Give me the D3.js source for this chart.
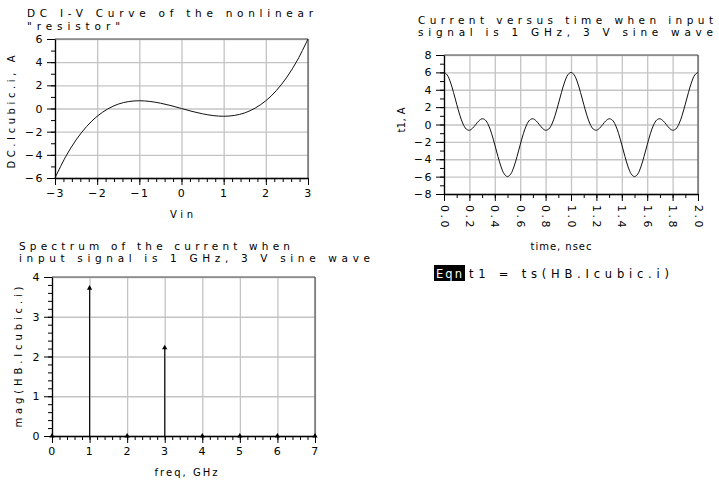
<!DOCTYPE html>
<html><head><meta charset="utf-8">
<script src="https://cdn.jsdelivr.net/npm/d3@7"></script>
<style>
html,body{margin:0;padding:0;background:#fff;}
text{font-family:"DejaVu Sans",sans-serif;fill:#000;}
</style></head>
<body><svg id="c" width="719" height="482"></svg>
<script>
// ---------- data ----------
const dcVin = [-3,-2.75,-2.5,-2.25,-2,-1.75,-1.5,-1.25,-1,-0.75,-0.5,-0.25,0,0.25,0.5,0.75,1,1.25,1.5,1.75,2,2.25,2.5,2.75,3];
const dcCurrent = [-6,-4.18,-2.71,-1.55,-0.67,-0.04,0.38,0.6,0.67,0.61,0.46,0.25,0,-0.25,-0.46,-0.61,-0.67,-0.6,-0.38,0.04,0.67,1.55,2.71,4.18,6];

const timeNs = [0,0.025,0.05,0.075,0.1,0.125,0.15,0.175,0.2,0.225,0.25,0.275,0.3,0.325,0.35,0.375,0.4,0.425,0.45,0.475,
 0.5,0.525,0.55,0.575,0.6,0.625,0.65,0.675,0.7,0.725,0.75,0.775,0.8,0.825,0.85,0.875,0.9,0.925,0.95,0.975,
 1,1.025,1.05,1.075,1.1,1.125,1.15,1.175,1.2,1.225,1.25,1.275,1.3,1.325,1.35,1.375,1.4,1.425,1.45,1.475,
 1.5,1.525,1.55,1.575,1.6,1.625,1.65,1.675,1.7,1.725,1.75,1.775,1.8,1.825,1.85,1.875,1.9,1.925,1.95,1.975,2];
const t1Current = [6,5.71,4.89,3.69,2.34,1.06,0.06,-0.52,-0.66,-0.43,0,0.43,0.66,0.52,-0.06,-1.06,-2.34,-3.69,-4.89,-5.71,
 -6,-5.71,-4.89,-3.69,-2.34,-1.06,-0.06,0.52,0.66,0.43,0,-0.43,-0.66,-0.52,0.06,1.06,2.34,3.69,4.89,5.71,
 6,5.71,4.89,3.69,2.34,1.06,0.06,-0.52,-0.66,-0.43,0,0.43,0.66,0.52,-0.06,-1.06,-2.34,-3.69,-4.89,-5.71,
 -6,-5.71,-4.89,-3.69,-2.34,-1.06,-0.06,0.52,0.66,0.43,0,-0.43,-0.66,-0.52,0.06,1.06,2.34,3.69,4.89,5.71,6];

const freqGHz = [0,1,2,3,4,5,6,7];
const magHB = [0,3.72,0,2.22,0,0,0,0];

const dcXTicks = [-3,-2,-1,0,1,2,3];
const dcYTicks = [-6,-4,-2,0,2,4,6];
const tsXTicks = [0,0.2,0.4,0.6,0.8,1.0,1.2,1.4,1.6,1.8,2.0];
const tsYTicks = [-8,-6,-4,-2,0,2,4,6,8];
const spXTicks = [0,1,2,3,4,5,6,7];
const spYTicks = [0,1,2,3,4];

const svg = d3.select("#c");

function txt(g, s, x, y, opts) {
  const t = g.append("text").attr("x", x).attr("y", y).text(s)
    .attr("font-size", opts.size || 12);
  if (opts.len) t.attr("textLength", opts.len).attr("lengthAdjust", "spacing");
  if (opts.anchor) t.attr("text-anchor", opts.anchor);
  if (opts.rot) t.attr("transform", `rotate(${opts.rot},${x},${y})`);
  if (opts.ls) t.attr("letter-spacing", opts.ls);
  return t;
}

function panel(cfg) {
  const g = svg.append("g");
  const x = d3.scaleLinear().domain(cfg.xd).range([cfg.l, cfg.r]);
  const y = d3.scaleLinear().domain(cfg.yd).range([cfg.b, cfg.t]);
  const W = cfg.r - cfg.l, H = cfg.b - cfg.t;
  // grid
  g.append("g").attr("transform", `translate(0,${cfg.b})`)
    .call(d3.axisBottom(x).tickValues(cfg.xTicks).tickSize(-H).tickFormat(""))
    .call(a => a.select(".domain").remove())
    .selectAll("line").attr("stroke", "#c4c4c4").attr("stroke-width", 1.3);
  g.append("g").attr("transform", `translate(${cfg.l},0)`)
    .call(d3.axisLeft(y).tickValues(cfg.yTicks).tickSize(-W).tickFormat(""))
    .call(a => a.select(".domain").remove())
    .selectAll("line").attr("stroke", "#c4c4c4").attr("stroke-width", 1.3);
  // frame top/right
  g.append("line").attr("x1", cfg.l).attr("x2", cfg.r).attr("y1", cfg.t).attr("y2", cfg.t).attr("stroke", "#555").attr("stroke-width", 1.2);
  g.append("line").attr("x1", cfg.r).attr("x2", cfg.r).attr("y1", cfg.t).attr("y2", cfg.b).attr("stroke", "#555").attr("stroke-width", 1.2);
  // minor ticks
  g.append("g").attr("transform", `translate(0,${cfg.b})`)
    .call(d3.axisBottom(x).tickValues(cfg.xMinor).tickSize(4).tickFormat(""))
    .call(a => a.select(".domain").remove())
    .selectAll("line").attr("stroke", "#000");
  g.append("g").attr("transform", `translate(${cfg.l},0)`)
    .call(d3.axisLeft(y).tickValues(cfg.yMinor).tickSize(4).tickFormat(""))
    .call(a => a.select(".domain").remove())
    .selectAll("line").attr("stroke", "#000");
  // major axes
  const xa = g.append("g").attr("transform", `translate(0,${cfg.b})`)
    .call(d3.axisBottom(x).tickValues(cfg.xTicks).tickSize(7).tickPadding(4).tickSizeOuter(0).tickFormat(cfg.xFmt));
  xa.select(".domain").attr("stroke", "#000").attr("stroke-width", 1.3);
  xa.selectAll("line").attr("stroke", "#000");
  xa.selectAll("text").attr("font-size", 11).attr("font-family", '"DejaVu Sans",sans-serif').attr("letter-spacing", 1.5);
  if (cfg.rotX) {
    xa.selectAll("text").attr("text-anchor", "start").attr("y", 0).attr("dy", "0.35em")
      .attr("transform", "translate(0,11) rotate(90)").attr("letter-spacing", 2.5);
  }
  const ya = g.append("g").attr("transform", `translate(${cfg.l},0)`)
    .call(d3.axisLeft(y).tickValues(cfg.yTicks).tickSize(8).tickPadding(3).tickSizeOuter(0).tickFormat(d3.format("d")));
  ya.select(".domain").attr("stroke", "#000").attr("stroke-width", 1.3);
  ya.selectAll("line").attr("stroke", "#000");
  ya.selectAll("text").attr("font-size", 11).attr("font-family", '"DejaVu Sans",sans-serif').attr("letter-spacing", 1.5);
  return {g, x, y};
}

// ---------- panel 1: DC I-V ----------
const p1 = panel({l: 55, r: 308, t: 39, b: 178, xd: [-3, 3], yd: [-6, 6],
  xTicks: dcXTicks, yTicks: dcYTicks, xFmt: d3.format("d"),
  xMinor: d3.range(-3, 3.001, 0.2), yMinor: d3.range(-6, 6.001, 1)});
p1.g.append("path").datum(dcVin.map((v, i) => [v, dcCurrent[i]]))
  .attr("fill", "none").attr("stroke", "#111").attr("stroke-width", 1)
  .attr("d", d3.line().x(d => p1.x(d[0])).y(d => p1.y(d[1])).curve(d3.curveCatmullRom));
txt(svg, "DC I-V Curve of the nonlinear", 27, 17, {size: 10.5, len: 286});
txt(svg, "\"resistor\"", 27, 29.5, {size: 10.5, len: 93});
txt(svg, "Vin", 181.5, 218, {size: 10, len: 23, anchor: "middle"});
txt(svg, "DC.Icubic.i, A", 15, 112, {size: 10, len: 113, anchor: "middle", rot: -90});

// ---------- panel 2: time domain ----------
const p2 = panel({l: 444, r: 698, t: 55, b: 194, xd: [0, 2], yd: [-8, 8],
  xTicks: tsXTicks, yTicks: tsYTicks, xFmt: d3.format(".1f"), rotX: true,
  xMinor: d3.range(0, 2.001, 0.1), yMinor: d3.range(-8, 8.001, 1)});
p2.g.append("path").datum(timeNs.map((v, i) => [v, t1Current[i]]))
  .attr("fill", "none").attr("stroke", "#111").attr("stroke-width", 1)
  .attr("d", d3.line().x(d => p2.x(d[0])).y(d => p2.y(d[1])).curve(d3.curveCatmullRom));
txt(svg, "Current versus time when input", 418, 24, {size: 10.5, len: 295});
txt(svg, "signal is 1 GHz, 3 V sine wave", 418, 36, {size: 10.5, len: 295});
txt(svg, "time, nsec", 561, 250, {size: 10, len: 61, anchor: "middle"});
txt(svg, "t1, A", 405, 120, {size: 10, len: 25, anchor: "middle", rot: -90});

// ---------- panel 3: spectrum ----------
const p3 = panel({l: 52, r: 315, t: 277, b: 436, xd: [0, 7], yd: [0, 4],
  xTicks: spXTicks, yTicks: spYTicks, xFmt: d3.format("d"),
  xMinor: d3.range(0, 7.001, 0.2), yMinor: d3.range(0, 4.001, 0.2)});
p3.g.selectAll(".stem").data(freqGHz.map((f, i) => [f, magHB[i]])).enter().append("line")
  .attr("x1", d => p3.x(d[0])).attr("x2", d => p3.x(d[0]))
  .attr("y1", p3.y(0)).attr("y2", d => p3.y(d[1]))
  .attr("stroke", "#111").attr("stroke-width", 1.2);
p3.g.selectAll(".mk").data(freqGHz.map((f, i) => [f, magHB[i]])).enter().append("path")
  .attr("transform", d => `translate(${p3.x(d[0])},${p3.y(d[1])})`)
  .attr("d", d3.symbol(d3.symbolTriangle, 12)).attr("fill", "#000");
txt(svg, "Spectrum of the current when", 19, 250, {size: 10.5, len: 271});
txt(svg, "input signal is 1 GHz, 3 V sine wave", 19, 262, {size: 10.5, len: 351});
txt(svg, "freq, GHz", 186, 476, {size: 10, len: 63, anchor: "middle"});
txt(svg, "mag(HB.Icubic.i)", 22, 357, {size: 10, len: 141, anchor: "middle", rot: -90});

// ---------- equation ----------
svg.append("rect").attr("x", 434).attr("y", 265).attr("width", 31).attr("height", 16).attr("fill", "#000");
txt(svg, "Eqn", 436, 278, {size: 11.5, len: 26}).style("fill", "#fff");
txt(svg, "t1 = ts(HB.Icubic.i)", 469, 278, {size: 11.5, len: 200});
</script></body></html>
